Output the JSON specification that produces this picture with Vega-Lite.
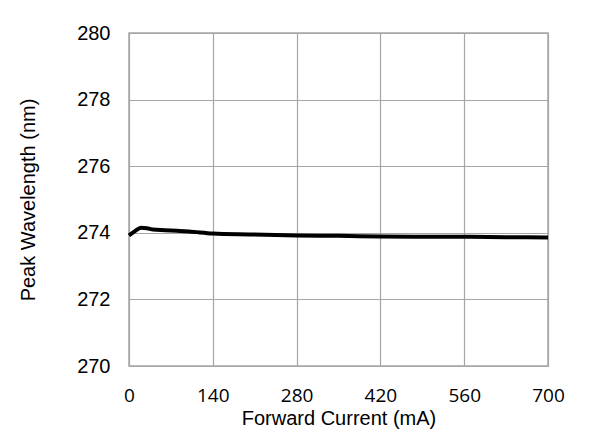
{
  "$schema": "https://vega.github.io/schema/vega-lite/v6.json",
  "autosize": "none",
  "width": 419,
  "height": 333,
  "padding": {"left": 129, "top": 33, "right": 43, "bottom": 68},
  "background": "white",
  "config": {
    "view": {"stroke": "#a6a6a6", "strokeWidth": 1.5},
    "axis": {"gridColor": "#a6a6a6", "gridWidth": 1.2, "domain": false, "ticks": false, "labelColor": "black", "titleColor": "black", "titleFontWeight": "normal", "labelFlush": false, "labelBound": false, "labelOverlap": false}
  },
  "data": {
    "values": [
      {"current": 0, "wavelength": 273.92},
      {"current": 10, "wavelength": 274.05},
      {"current": 20, "wavelength": 274.15},
      {"current": 30, "wavelength": 274.14},
      {"current": 40, "wavelength": 274.1},
      {"current": 60, "wavelength": 274.08},
      {"current": 80, "wavelength": 274.06},
      {"current": 100, "wavelength": 274.04},
      {"current": 140, "wavelength": 273.98},
      {"current": 200, "wavelength": 273.95},
      {"current": 280, "wavelength": 273.92},
      {"current": 350, "wavelength": 273.91},
      {"current": 420, "wavelength": 273.89},
      {"current": 490, "wavelength": 273.88},
      {"current": 560, "wavelength": 273.88},
      {"current": 630, "wavelength": 273.87},
      {"current": 700, "wavelength": 273.86}
    ]
  },
  "mark": {"type": "line", "color": "black", "strokeWidth": 4, "interpolate": "monotone"},
  "encoding": {
    "x": {
      "field": "current", "type": "quantitative",
      "scale": {"domain": [0, 700], "nice": false, "zero": false},
      "axis": {"values": [0, 140, 280, 420, 560, 700], "title": "Forward Current (mA)", "labelFont": "Open Sans", "labelFontSize": 19, "labelPadding": 20, "titleFont": "Liberation Sans", "titleFontSize": 20, "titlePadding": 3}
    },
    "y": {
      "field": "wavelength", "type": "quantitative",
      "scale": {"domain": [270, 280], "nice": false, "zero": false},
      "axis": {"values": [270, 272, 274, 276, 278, 280], "title": "Peak Wavelength (nm)", "labelFont": "Liberation Sans", "labelFontSize": 20, "labelPadding": 19, "titleFont": "Liberation Sans", "titleFontSize": 20, "titlePadding": 38}
    }
  }
}
